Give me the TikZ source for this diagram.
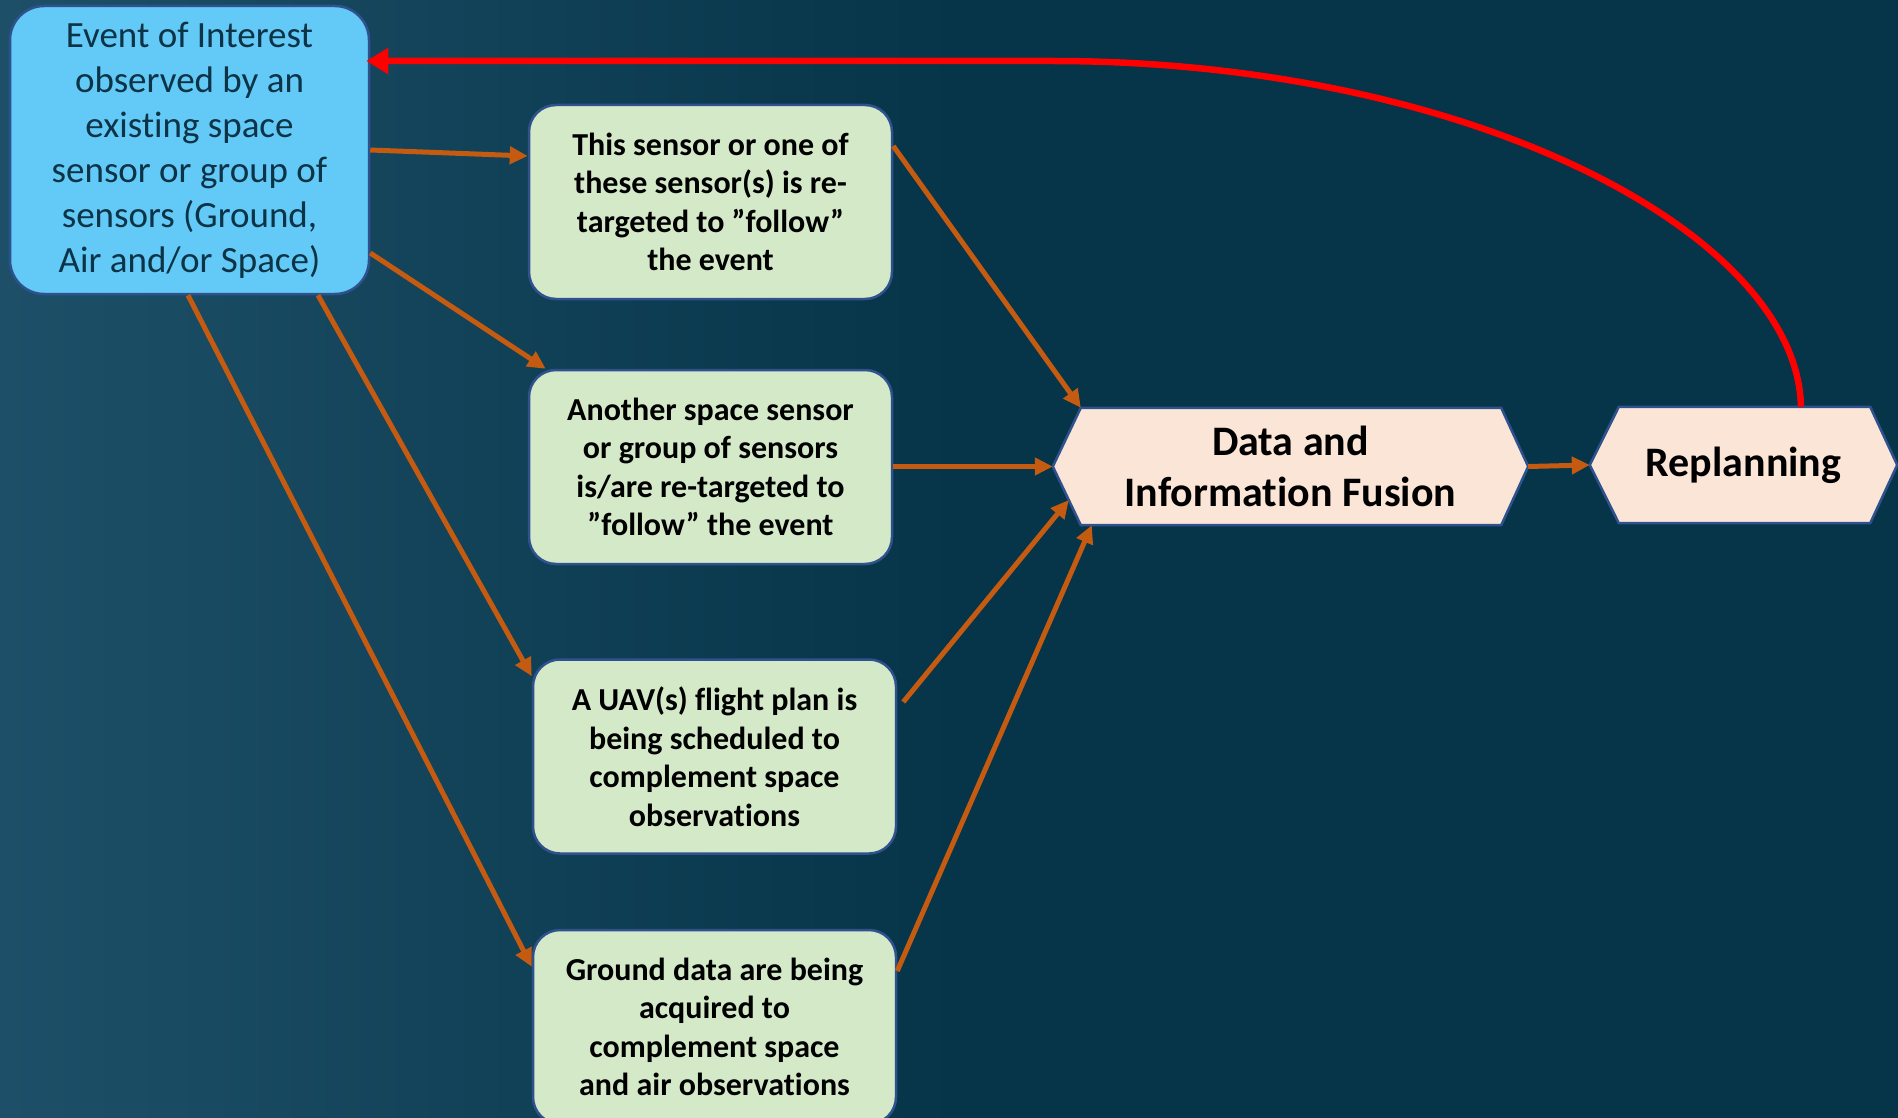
\documentclass[tikz,border=0pt]{standalone}
\usepackage{fontspec}
\setmainfont{Carlito}[Ligatures=NoCommon]
\usetikzlibrary{arrows.meta}
\pgfdeclarelayer{background}
\pgfsetlayers{background,main}
\definecolor{bgL}{HTML}{1D5068}
\definecolor{bgM}{HTML}{0D3C52}
\definecolor{bgR}{HTML}{063448}
\definecolor{evfill}{HTML}{63C9F7}
\definecolor{evtext}{HTML}{0C3346}
\definecolor{grfill}{HTML}{D3E9C7}
\definecolor{hexfill}{HTML}{FBE5D6}
\definecolor{bord}{HTML}{2F528F}
\definecolor{orng}{HTML}{C55A11}
\tikzset{
  evbox/.style={draw=bord, line width=2.5pt, fill=evfill, rounded corners=34pt,
    minimum width=359pt, minimum height=288pt, inner sep=0pt, align=center,
    text=evtext, font=\fontsize{37}{45}\selectfont},
  grbox/.style={draw=bord, line width=2.5pt, fill=grfill, rounded corners=27pt,
    minimum width=363pt, minimum height=194pt, inner sep=0pt, align=center,
    text=black, font=\bfseries\fontsize{32}{38.5}\selectfont},
  hexnode/.style={inner sep=0pt, align=center, text=black,
    font=\bfseries\fontsize{42}{51}\selectfont},
  hexshape/.style={draw=bord, line width=2.5pt, fill=hexfill, line join=miter},
  oarrow/.style={draw=orng, line width=5pt, -{Triangle[length=18pt,width=17pt]}},
  rarrow/.style={draw=red, line width=6.5pt, -{Triangle[length=22pt,width=25pt]}}
}
\begin{document}
\begin{tikzpicture}[x=1pt,y=-1pt]
\useasboundingbox (0,0) rectangle (1898,1118);
\begin{pgfonlayer}{background}
\shade[left color=bgL, right color=bgR] (0,0) rectangle (960,1118);
\fill[bgR] (959,0) rectangle (1898,1118);
\end{pgfonlayer}

\node[evbox] (ev) at (189.5,150) {Event of Interest\\observed by an\\existing space\\sensor or group of\\sensors (Ground,\\Air and/or Space)};

\node[grbox] (g1) at (710.5,202) {This sensor or one of\\these sensor(s) is re-\\targeted to ”follow”\\the event};
\node[grbox] (g2) at (710.5,467) {Another space sensor\\or group of sensors\\is/are re-targeted to\\”follow” the event};
\node[grbox] (g3) at (714.5,756.5) {A UAV(s) flight plan is\\being scheduled to\\complement space\\observations};
\node[grbox] (g4) at (714.5,1027) {Ground data are being\\acquired to\\complement space\\and air observations};

\node[hexnode, minimum width=475pt, minimum height=117pt] (fus) at (1290.5,466.5) {Data and\\Information Fusion};
\node[hexnode, minimum width=307pt, minimum height=116pt] (repl) at (1743.5,465) {Replanning};

\begin{pgfonlayer}{background}
\path[hexshape] (fus.west) -- ([xshift=28pt]fus.north west) -- ([xshift=-27pt]fus.north east)
  -- (fus.east) -- ([xshift=-27pt]fus.south east) -- ([xshift=28pt]fus.south west) -- cycle;
\path[hexshape] (repl.west) -- ([xshift=29pt]repl.north west) -- ([xshift=-27pt]repl.north east)
  -- (repl.east) -- ([xshift=-27pt]repl.south east) -- ([xshift=29pt]repl.south west) -- cycle;
\end{pgfonlayer}

% orange connectors
\draw[oarrow] (ev.east) -- ([yshift=46pt]g1.west);
\draw[oarrow] ([yshift=-103pt]ev.east) -- ([xshift=18pt]g2.north west);
\draw[oarrow] ([xshift=128.5pt]ev.south) -- ([yshift=-18pt]g3.north west);
\draw[oarrow] ([xshift=-1.5pt]ev.south) -- ([yshift=-38pt]g4.north west);

\draw[oarrow] ([yshift=56pt]g1.east) -- ([xshift=28pt]fus.north west);
\draw[oarrow] (g2.east |- fus.west) -- (fus.west);
\draw[oarrow] ([shift={(6pt,54.5pt)}]g3.east) -- ([shift={(16pt,-33.5pt)}]fus.west);
\draw[oarrow] ([yshift=56pt]g4.east) -- ([xshift=39pt]fus.south west);

\draw[oarrow] (fus.east) -- (repl.west);

% red feedback
\coordinate (top) at (1053,61);
\draw[rarrow] ([xshift=57.5pt]repl.north) .. controls +(-4,-175) and +(413,0) .. (top) -- ([xshift=-4pt]ev.east |- top);
\end{tikzpicture}
\end{document}
